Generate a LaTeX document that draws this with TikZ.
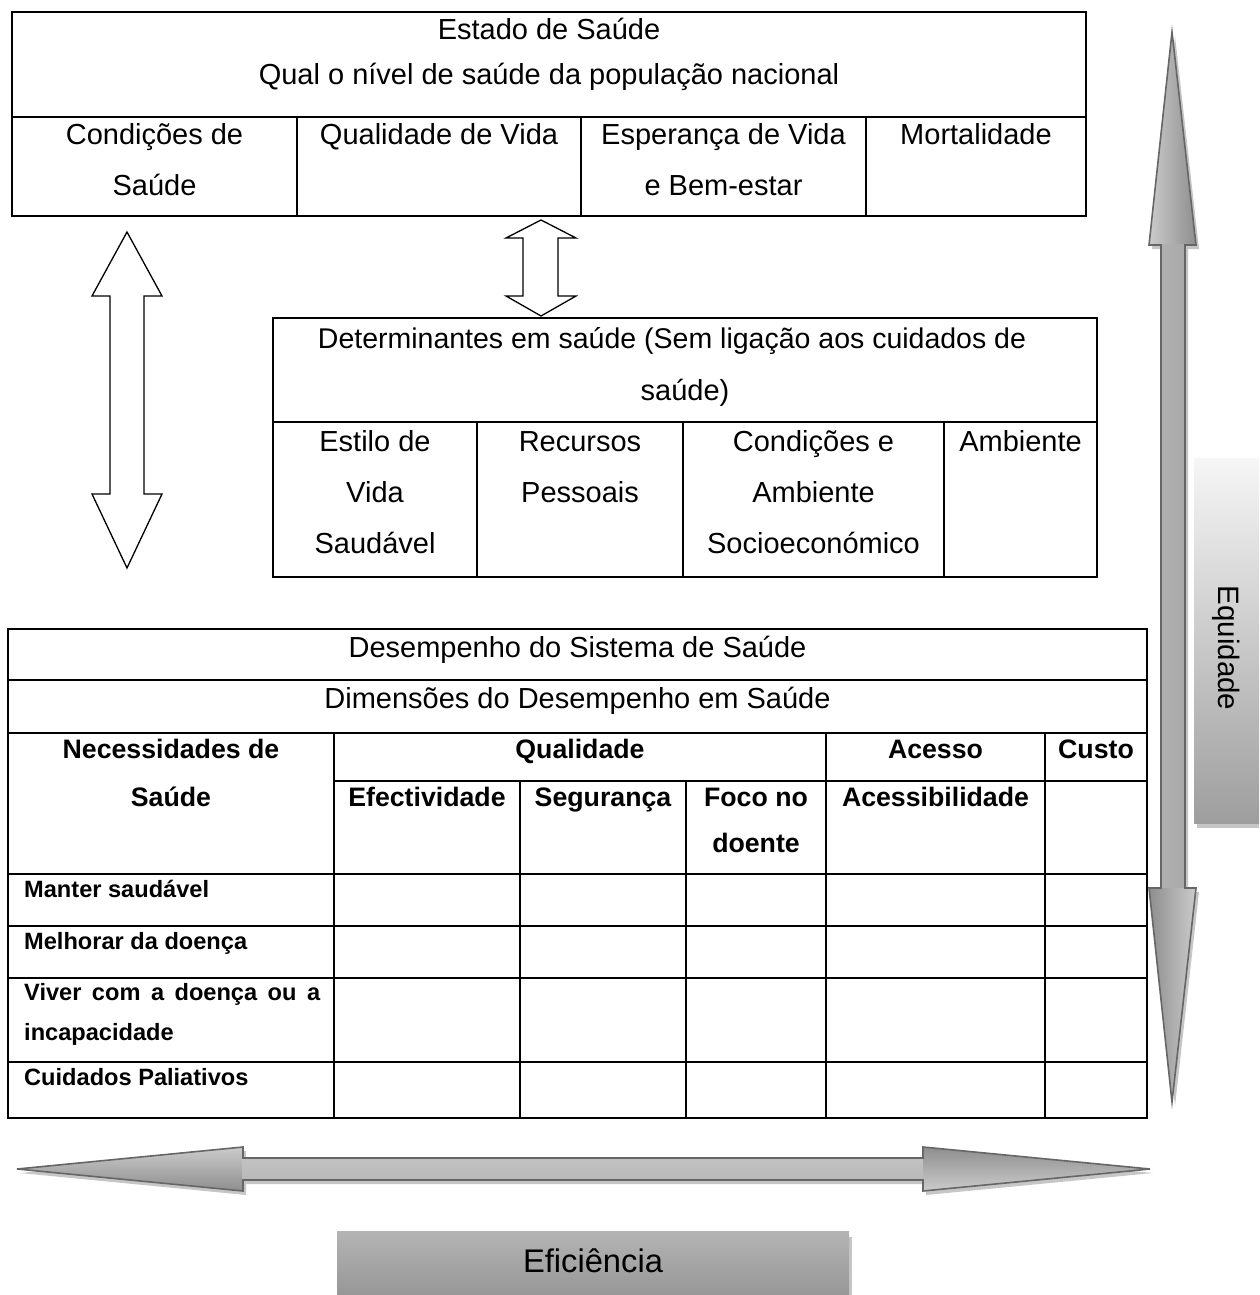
\documentclass[tikz,border=0pt]{standalone}
\usepackage{fontspec}
\setmainfont{Liberation Sans}
\begin{document}
\definecolor{arrowline}{HTML}{666666}
\definecolor{arrowlight}{HTML}{CBCBCB}
\definecolor{arrowdark}{HTML}{8E8E8E}
\definecolor{shadowgray}{HTML}{C6C6C6}
\definecolor{boxtop}{HTML}{F6F6F6}
\definecolor{boxbottom}{HTML}{9E9E9E}
\definecolor{efftop}{HTML}{B4B4B4}
\definecolor{effbottom}{HTML}{979797}
\begin{tikzpicture}[x=1pt,y=-1pt,
  frame/.style={draw=black,line width=1.4pt},
  grid/.style={draw=black,line width=1.8pt},
  hollow/.style={draw=black,fill=white,line width=1.3pt,line join=miter},
  txt/.style={inner sep=0pt,anchor=base,font=\fontsize{29}{34}\selectfont},
  hdr/.style={inner sep=0pt,anchor=base,font=\fontsize{26.7}{32}\selectfont\bfseries},
  rowlbl/.style={inner sep=0pt,anchor=base west,font=\fontsize{23.6}{28}\selectfont\bfseries},
  outline/.style={draw=arrowline,line width=1.6pt,line join=miter}]
\useasboundingbox (0,0) rectangle (1259,1295);

% ---------- Estado de Saude ----------
\draw[frame] (12,12) rectangle (1086,216);
\draw[frame] (12,117) -- (1086,117);
\foreach \x in {297,581,866} \draw[frame] (\x,117) -- (\x,216);
\node[txt] (es1) at (549,40) {Estado de Saúde};
\node[txt] (es2) at (549,85) {Qual o nível de saúde da população nacional};
\node[txt] (c1a) at (154.5,145) {Condições de};
\node[txt] (c1b) at (154.5,195) {Saúde};
\node[txt] (c2a) at (439,145) {Qualidade de Vida};
\node[txt] (c3a) at (723.5,145) {Esperança de Vida};
\node[txt] (c3b) at (723.5,195) {e Bem-estar};
\node[txt] (c4a) at (976,145) {Mortalidade};

% ---------- white double arrows ----------
\draw[hollow] (127,232) -- (162,296) -- (144,296) -- (144,494) -- (162,494)
  -- (127,568) -- (92,494) -- (110,494) -- (110,296) -- (92,296) -- cycle;
\draw[hollow] (541,220) -- (576,238) -- (558,238) -- (558,296) -- (576,296)
  -- (541,316) -- (506,296) -- (523,296) -- (523,238) -- (506,238) -- cycle;

% ---------- Determinantes ----------
\draw[frame] (273,318) rectangle (1097,577);
\draw[frame] (273,422) -- (1097,422);
\foreach \x in {477,683,944} \draw[frame] (\x,422) -- (\x,577);
\node[txt,font=\fontsize{28.5}{34}\selectfont] (d1) at (672,348) {Determinantes em saúde (Sem ligação aos cuidados de};
\node[txt] (d2) at (685,400) {saúde)};
\node[txt] (e1) at (375,451) {Estilo de};
\node[txt] (e2) at (375,502) {Vida};
\node[txt] (e3) at (375,553) {Saudável};
\node[txt] (r1) at (580,451) {Recursos};
\node[txt] (r2) at (580,502) {Pessoais};
\node[txt] (s1) at (813.5,451) {Condições e};
\node[txt] (s2) at (813.5,502) {Ambiente};
\node[txt] (s3) at (813.5,553) {Socioeconómico};
\node[txt] (a1) at (1020.5,451) {Ambiente};

% ---------- Desempenho table ----------
\draw[grid] (8,629) rectangle (1147,1118);
\foreach \y in {680,733,874,926,978,1062} \draw[grid] (8,\y) -- (1147,\y);
\draw[grid] (334,781) -- (1147,781);
\foreach \x in {334,826,1045} \draw[grid] (\x,733) -- (\x,1118);
\foreach \x in {520,686} \draw[grid] (\x,781) -- (\x,1118);
\node[txt] (t1) at (577.5,657) {Desempenho do Sistema de Saúde};
\node[txt] (t2) at (577.5,708) {Dimensões do Desempenho em Saúde};
\node[hdr] (h1) at (171,758) {Necessidades de};
\node[hdr] (h2) at (171,806) {Saúde};
\node[hdr] (h3) at (580,758) {Qualidade};
\node[hdr] (h4) at (935.5,758) {Acesso};
\node[hdr] (h5) at (1096,758) {Custo};
\node[hdr] (h6) at (427,806) {Efectividade};
\node[hdr] (h7) at (603,806) {Segurança};
\node[hdr] (h8) at (756,806) {Foco no};
\node[hdr] (h9) at (756,852) {doente};
\node[hdr] (h10) at (935.5,806) {Acessibilidade};
\node[rowlbl] (l1) at (24,897) {Manter saudável};
\node[rowlbl] (l2) at (24,949) {Melhorar da doença};
\node[rowlbl] (l3) at (24,1000) {\makebox[296pt][s]{Viver com a doença ou a}};
\node[rowlbl] (l4) at (24,1040) {incapacidade};
\node[rowlbl] (l5) at (24,1085) {Cuidados Paliativos};

% ---------- Equidade (vertical grey arrow + box) ----------
\def\varrow{(1172,32) -- (1196,245) -- (1185,245) -- (1185,888) -- (1196,888)
  -- (1172,1102) -- (1149,888) -- (1161,888) -- (1161,245) -- (1149,245) -- cycle}
\fill[shadowgray,shift={(3,4)}] \varrow;
\begin{scope}
  \clip (1100,0) rectangle (1259,246);
  \shade[left color=arrowlight,right color=arrowdark] \varrow;
\end{scope}
\begin{scope}
  \clip (1100,244) rectangle (1259,889);
  \shade[left color=arrowlight!55!arrowdark,middle color=arrowlight,right color=arrowlight!45!arrowdark] (1161,244) rectangle (1185,889);
\end{scope}
\begin{scope}
  \clip (1100,888) rectangle (1259,1200);
  \shade[left color=arrowdark,right color=arrowlight] \varrow;
\end{scope}
\draw[outline] \varrow;

\fill[shadowgray] (1197,823) rectangle (1259,828);
\shade[top color=boxtop,bottom color=boxbottom] (1194,458) rectangle (1259,823);
\node[inner sep=0pt,rotate=-90,font=\fontsize{29.5}{34}\selectfont] (eq) at (1226,648) {Equidade};

% ---------- Eficiencia (horizontal grey arrow + box) ----------
\def\harrow{(17,1169) -- (243,1147) -- (243,1158) -- (923,1158) -- (923,1147)
  -- (1150,1169) -- (923,1191) -- (923,1180) -- (243,1180) -- (243,1191) -- cycle}
\fill[shadowgray,shift={(3,4)}] \harrow;
\begin{scope}
  \clip (0,1100) rectangle (244,1220);
  \shade[top color=arrowlight,bottom color=arrowdark] \harrow;
\end{scope}
\begin{scope}
  \clip (242,1100) rectangle (924,1220);
  \shade[top color=arrowlight!85!arrowdark,middle color=arrowlight,bottom color=arrowlight!70!arrowdark] (242,1158) rectangle (924,1180);
\end{scope}
\begin{scope}
  \clip (923,1100) rectangle (1259,1220);
  \shade[top color=arrowdark,bottom color=arrowlight] \harrow;
\end{scope}
\draw[outline] \harrow;

\fill[shadowgray] (849,1237) rectangle (852,1295);
\shade[top color=efftop,bottom color=effbottom] (337,1231) rectangle (849,1295);
\node[inner sep=0pt,font=\fontsize{32.7}{38}\selectfont] (ef) at (593,1261) {Eficiência};
\end{tikzpicture}
\end{document}
